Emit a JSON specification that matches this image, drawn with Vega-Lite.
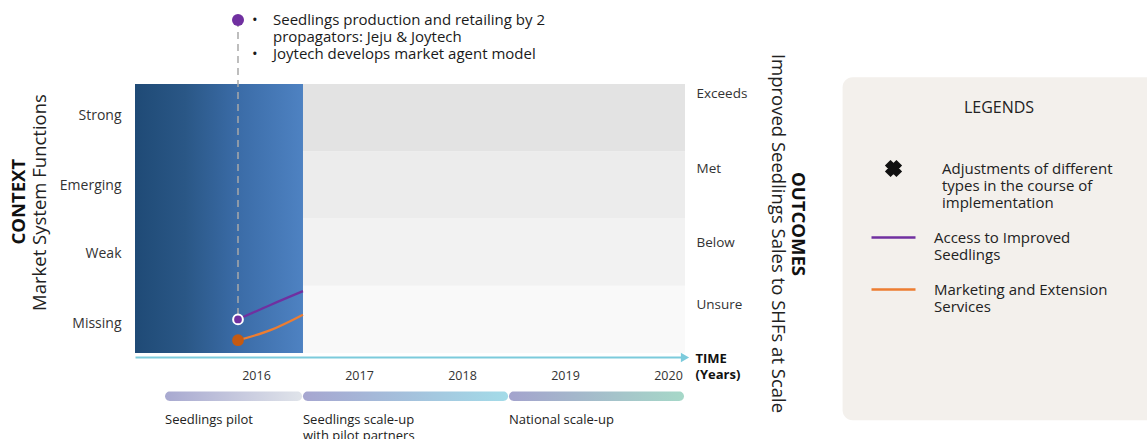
{
  "$schema": "https://vega.github.io/schema/vega-lite/v6.json",
  "width": 550,
  "height": 269,
  "autosize": {"type": "none"},
  "padding": {"left": 135, "top": 84, "right": 462, "bottom": 86},
  "background": "#ffffff",
  "config": {
    "view": {"stroke": null},
    "font": "Open Sans",
    "axis": {"grid": false, "ticks": false, "domain": false, "labelFont": "Open Sans", "titleFont": "Open Sans", "labelColor": "#333333", "titleColor": "#222222"},
    "legend": {"labelFont": "Open Sans", "titleFont": "Open Sans"}
  },
  "datasets": {
    "levels": [
      {"level": "Missing", "lo": 0, "hi": 1},
      {"level": "Weak", "lo": 1, "hi": 2},
      {"level": "Emerging", "lo": 2, "hi": 3},
      {"level": "Strong", "lo": 3, "hi": 4}
    ],
    "series": [
      {"series": "Access to Improved Seedlings", "time": 2015.825, "score": 0.5},
      {"series": "Access to Improved Seedlings", "time": 2016.14, "score": 0.715},
      {"series": "Access to Improved Seedlings", "time": 2016.456, "score": 0.92},
      {"series": "Marketing and Extension Services", "time": 2015.825, "score": 0.19},
      {"series": "Marketing and Extension Services", "time": 2016.14, "score": 0.34},
      {"series": "Marketing and Extension Services", "time": 2016.456, "score": 0.57}
    ],
    "event": [
      {"time": 2015.825, "score": 4.952, "base": 0.5,
       "lines": ["Seedlings production and retailing by 2", "propagators: Jeju & Joytech", "Joytech develops market agent model"],
       "bullets": ["•", "•"]}
    ],
    "phases": [
      {"phase": "Seedlings pilot", "start": 2015.117, "end": 2016.447, "label": ["Seedlings pilot"]},
      {"phase": "Seedlings scale-up with pilot partners", "start": 2016.456, "end": 2018.447, "label": ["Seedlings scale-up", "with pilot partners"]},
      {"phase": "National scale-up", "start": 2018.456, "end": 2020.155, "label": ["National scale-up"]}
    ]
  },
  "resolve": {"scale": {"fill": "independent", "stroke": "independent"}, "axis": {"y": "independent"}},
  "layer": [
    {
      "data": {"values": [{}]},
      "mark": {"type": "rect", "color": "#f3f0ec", "cornerRadius": 10},
      "encoding": {
        "x": {"datum": 2021.695, "type": "quantitative", "scale": {"domain": [2014.825, 2020.165], "nice": false, "zero": false}},
        "x2": {"datum": 2024.9},
        "y": {"datum": 4.1, "type": "quantitative", "scale": {"domain": [0, 4], "nice": false, "zero": false}, "axis": null},
        "y2": {"datum": -1.0}
      }
    },
    {
      "data": {"name": "levels"},
      "mark": {"type": "rect"},
      "encoding": {
        "x": {"datum": 2014.825, "type": "quantitative",
              "axis": {"orient": "bottom", "values": [2016, 2017, 2018, 2019, 2020], "format": "d", "offset": 4,
                       "domain": true, "domainColor": "#7ccbdc", "domainWidth": 2,
                       "labelFontSize": 12.5, "labelPadding": 12, "labelColor": "#333333",
                       "title": ["TIME", "(Years)"], "titleFontWeight": "bold", "titleFontSize": 13, "titleColor": "#111111",
                       "titleAlign": "left", "titleBaseline": "top", "titleX": 560, "titleY": -5, "titleLineHeight": 16}},
        "x2": {"datum": 2020.165},
        "y": {"field": "lo", "type": "quantitative",
              "axis": {"orient": "left", "values": [0.441, 1.482, 2.498, 3.532],
                       "labelExpr": "['Missing','Weak','Emerging','Strong'][floor(datum.value)]",
                       "labelFontSize": 14, "labelPadding": 14, "labelColor": "#333333",
                       "title": "Market System Functions", "titleFontSize": 18.5, "titleFontWeight": "normal", "titleColor": "#222222",
                       "titleAngle": 270, "titleX": -96, "titleY": 118, "titleAlign": "center", "titleBaseline": "middle"}},
        "y2": {"field": "hi"},
        "fill": {"field": "level", "type": "nominal", "legend": null,
                 "scale": {"domain": ["Strong", "Emerging", "Weak", "Missing"], "range": ["#e3e3e3", "#ececec", "#f2f2f2", "#f9f9f9"]}}
      }
    },
    {
      "data": {"values": [{}]},
      "mark": {"type": "rect", "color": {"gradient": "linear", "x1": 0, "y1": 0, "x2": 1, "y2": 0,
        "stops": [{"offset": 0, "color": "#1f4a76"}, {"offset": 0.3, "color": "#2a5786"}, {"offset": 0.6, "color": "#3a6ba6"}, {"offset": 1, "color": "#4e82c2"}]}},
      "encoding": {
        "x": {"datum": 2014.825, "type": "quantitative"},
        "x2": {"datum": 2016.456},
        "y": {"datum": 0, "type": "quantitative", "axis": null},
        "y2": {"datum": 4}
      }
    },
    {
      "data": {"name": "event"},
      "mark": {"type": "rule", "color": "#a8a8a8", "strokeWidth": 1.5, "strokeDash": [7, 5]},
      "encoding": {
        "x": {"field": "time", "type": "quantitative"},
        "y": {"field": "score", "type": "quantitative",
              "axis": {"orient": "right", "values": [0.714, 1.64, 2.746, 3.862],
                       "labelExpr": "datum.value < 1 ? 'Unsure' : datum.value < 2 ? 'Below' : datum.value < 3 ? 'Met' : 'Exceeds'",
                       "labelFontSize": 13.5, "labelPadding": 11, "labelColor": "#333333",
                       "title": "Improved Seedlings Sales to SHFs at Scale", "titleFontSize": 18.5, "titleFontWeight": "normal", "titleColor": "#222222",
                       "titleAngle": 90, "titleX": 92, "titleY": 149, "titleAlign": "center", "titleBaseline": "middle"}},
        "y2": {"field": "base"}
      }
    },
    {
      "data": {"name": "series"},
      "mark": {"type": "line", "strokeWidth": 2.2, "interpolate": "monotone"},
      "encoding": {
        "x": {"field": "time", "type": "quantitative"},
        "y": {"field": "score", "type": "quantitative", "axis": null},
        "color": {"field": "series", "type": "nominal",
          "scale": {"domain": ["Adjustments of different types in the course of implementation", "Access to Improved Seedlings", "Marketing and Extension Services"],
                    "range": ["#111111", "#7030a0", "#ed7d31"]},
          "legend": {
            "orient": "none", "legendX": 750, "legendY": 16,
            "title": "LEGENDS", "titleFontSize": 16, "titleFontWeight": "normal", "titleColor": "#222222", "titleAnchor": "middle", "titlePadding": 44,
            "labelFontSize": 15, "labelColor": "#222222", "labelLimit": 300, "labelOffset": 32,
            "symbolType": "stroke", "symbolSize": 1936, "symbolStrokeWidth": 2.5, "rowPadding": 18,
            "labelExpr": "datum.value == 'Access to Improved Seedlings' ? ['Access to Improved', 'Seedlings'] : datum.value == 'Marketing and Extension Services' ? ['Marketing and Extension', 'Services'] : ['Adjustments of different', 'types in the course of', 'implementation']",
            "encode": {
              "symbols": {"update": {
                "shape": {"signal": "datum.value == 'Access to Improved Seedlings' || datum.value == 'Marketing and Extension Services' ? 'stroke' : 'cross'"},
                "angle": {"signal": "datum.value == 'Access to Improved Seedlings' || datum.value == 'Marketing and Extension Services' ? 0 : 45"},
                "size": {"signal": "datum.value == 'Access to Improved Seedlings' || datum.value == 'Marketing and Extension Services' ? 1936 : 190"},
                "fill": {"signal": "datum.value == 'Access to Improved Seedlings' || datum.value == 'Marketing and Extension Services' ? 'transparent' : '#111111'"},
                "stroke": {"signal": "datum.value == 'Access to Improved Seedlings' ? '#7030a0' : datum.value == 'Marketing and Extension Services' ? '#ed7d31' : '#111111'"},
                "strokeWidth": {"value": 2.5}
              }},
              "labels": {"update": {
                "dx": {"signal": "datum.value == 'Access to Improved Seedlings' || datum.value == 'Marketing and Extension Services' ? 0 : 8"},
                "lineHeight": {"value": 17}
              }}
            }
          }
        }
      }
    },
    {
      "data": {"name": "series"},
      "transform": [{"filter": "datum.time == 2015.825"}],
      "mark": {"type": "point", "filled": true, "opacity": 1, "strokeWidth": 2, "size": 95},
      "encoding": {
        "x": {"field": "time", "type": "quantitative"},
        "y": {"field": "score", "type": "quantitative", "axis": null},
        "fill": {"field": "series", "type": "nominal", "legend": null,
                 "scale": {"domain": ["Access to Improved Seedlings", "Marketing and Extension Services"], "range": ["#7030a0", "#c55a11"]}},
        "stroke": {"field": "series", "type": "nominal", "legend": null,
                   "scale": {"domain": ["Access to Improved Seedlings", "Marketing and Extension Services"], "range": ["#ffffff", "#c55a11"]}}
      }
    },
    {
      "data": {"name": "event"},
      "mark": {"type": "point", "filled": true, "opacity": 1, "color": "#7030a0", "size": 145},
      "encoding": {
        "x": {"field": "time", "type": "quantitative"},
        "y": {"field": "score", "type": "quantitative", "axis": null}
      }
    },
    {
      "data": {"name": "event"},
      "mark": {"type": "text", "align": "left", "baseline": "top", "dx": 35, "fontSize": 15, "lineHeight": 17, "color": "#1a1a1a"},
      "encoding": {
        "x": {"field": "time", "type": "quantitative"},
        "y": {"datum": 5.05, "type": "quantitative", "axis": null},
        "text": {"field": "lines"}
      }
    },
    {
      "data": {"name": "event"},
      "mark": {"type": "text", "align": "left", "baseline": "top", "dx": 14, "fontSize": 15, "lineHeight": 34, "color": "#1a1a1a"},
      "encoding": {
        "x": {"field": "time", "type": "quantitative"},
        "y": {"datum": 5.05, "type": "quantitative", "axis": null},
        "text": {"field": "bullets"}
      }
    },
    {
      "data": {"name": "phases"},
      "transform": [{"filter": "datum.phase == 'Seedlings pilot'"}],
      "mark": {"type": "rect", "cornerRadius": 5, "color": {"gradient": "linear", "x1": 0, "y1": 0, "x2": 1, "y2": 0,
        "stops": [{"offset": 0, "color": "#a8a9d0"}, {"offset": 1, "color": "#e0e4ea"}]}},
      "encoding": {
        "x": {"field": "start", "type": "quantitative"},
        "x2": {"field": "end"},
        "y": {"datum": -0.572, "type": "quantitative", "axis": null},
        "y2": {"datum": -0.712}
      }
    },
    {
      "data": {"name": "phases"},
      "transform": [{"filter": "datum.phase == 'Seedlings scale-up with pilot partners'"}],
      "mark": {"type": "rect", "cornerRadius": 5, "color": {"gradient": "linear", "x1": 0, "y1": 0, "x2": 1, "y2": 0,
        "stops": [{"offset": 0, "color": "#a6a6d0"}, {"offset": 1, "color": "#a3dbe8"}]}},
      "encoding": {
        "x": {"field": "start", "type": "quantitative"},
        "x2": {"field": "end"},
        "y": {"datum": -0.572, "type": "quantitative", "axis": null},
        "y2": {"datum": -0.712}
      }
    },
    {
      "data": {"name": "phases"},
      "transform": [{"filter": "datum.phase == 'National scale-up'"}],
      "mark": {"type": "rect", "cornerRadius": 5, "color": {"gradient": "linear", "x1": 0, "y1": 0, "x2": 1, "y2": 0,
        "stops": [{"offset": 0, "color": "#a3a3cd"}, {"offset": 1, "color": "#a6d8c8"}]}},
      "encoding": {
        "x": {"field": "start", "type": "quantitative"},
        "x2": {"field": "end"},
        "y": {"datum": -0.572, "type": "quantitative", "axis": null},
        "y2": {"datum": -0.712}
      }
    },
    {
      "data": {"name": "phases"},
      "mark": {"type": "text", "align": "left", "baseline": "top", "fontSize": 13, "lineHeight": 16, "color": "#222222"},
      "encoding": {
        "x": {"field": "start", "type": "quantitative"},
        "y": {"datum": -0.9, "type": "quantitative", "axis": null},
        "text": {"field": "label"}
      }
    },
    {
      "data": {"values": [{}]},
      "mark": {"type": "point", "shape": "triangle-right", "filled": true, "opacity": 1, "color": "#7ccbdc", "size": 90},
      "encoding": {
        "x": {"datum": 2020.165, "type": "quantitative"},
        "y": {"datum": -0.066, "type": "quantitative", "axis": null}
      }
    },
    {
      "data": {"values": [{}]},
      "mark": {"type": "text", "text": "CONTEXT", "angle": 270, "align": "center", "baseline": "middle", "fontSize": 18.5, "fontWeight": "bold", "color": "#111111"},
      "encoding": {
        "x": {"datum": 2013.702, "type": "quantitative"},
        "y": {"datum": 2.25, "type": "quantitative", "axis": null}
      }
    },
    {
      "data": {"values": [{}]},
      "mark": {"type": "text", "text": "OUTCOMES", "angle": 90, "align": "center", "baseline": "middle", "fontSize": 18.5, "fontWeight": "bold", "color": "#111111"},
      "encoding": {
        "x": {"datum": 2021.265, "type": "quantitative"},
        "y": {"datum": 1.918, "type": "quantitative", "axis": null}
      }
    }
  ]
}
